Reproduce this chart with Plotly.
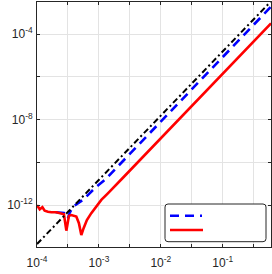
import plotly.graph_objects as go

# ---- data ----
ref_x = [1.0e-4, 0.6026]
ref_y = [1.55e-14, 3.39e-3]

blue_x = [1.995e-4, 2.239e-4, 2.723e-4, 3.162e-4, 3.365e-4, 3.811e-4, 4.581e-4,
          5.521e-4, 7.079e-4, 9.078e-4, 1.242e-3, 0.6026]
blue_y = [4.7e-13, 4.7e-13, 4.4e-13, 2.45e-13, 4.4e-13, 8.5e-13, 1.23e-12,
          1.78e-12, 3.6e-12, 7.4e-12, 1.51e-11, 1.9e-3]

red_x = [1.0e-4, 1.107e-4, 1.222e-4, 1.33e-4, 1.503e-4, 1.706e-4, 2.056e-4,
         2.477e-4, 2.723e-4, 2.979e-4, 3.281e-4, 3.589e-4, 4.315e-4, 4.753e-4,
         5.2e-4, 5.662e-4, 6.397e-4, 7.534e-4, 9.078e-4, 1.094e-3, 1.396e-3,
         1.778e-3, 2.512e-3, 0.6026]
red_y = [1.02e-12, 6.5e-13, 8.1e-13, 5.6e-13, 5.0e-13, 4.7e-13, 4.7e-13,
         4.3e-13, 3.8e-13, 6.5e-14, 3.2e-13, 3.5e-13, 3.0e-13, 1.45e-13,
         4.1e-14, 8.5e-14, 2.04e-13, 4.3e-13, 8.5e-13, 1.78e-12, 3.6e-12,
         7.4e-12, 2.1e-11, 3.2e-4]

x_tickvals = [1e-4, 1e-3, 1e-2, 1e-1]
x_ticktext = ["10<sup>-4</sup>", "10<sup>-3</sup>", "10<sup>-2</sup>", "10<sup>-1</sup>"]
x_minorvals = [10**-3.5, 10**-2.5, 10**-1.5, 10**-0.5]
y_tickvals = [1e-12, 1e-8, 1e-4]
y_ticktext = ["10<sup>-12</sup>", "10<sup>-8</sup>", "10<sup>-4</sup>"]
y_minorvals = [1e-10, 1e-6]

AX = "#262626"
GRID = "#e3e3e3"
BLUE = "#0000ff"
RED = "#ff0000"
FONT = "Liberation Sans"

fig = go.Figure()
fig.add_trace(go.Scatter(x=blue_x, y=blue_y, mode="lines",
                         line=dict(color=BLUE, width=2.6, dash="9px,6px")))
fig.add_trace(go.Scatter(x=red_x, y=red_y, mode="lines",
                         line=dict(color=RED, width=2.6)))
fig.add_trace(go.Scatter(x=ref_x, y=ref_y, mode="lines",
                         line=dict(color="#000000", width=2, dash="6px,3px,2px,3px")))

axis_common = dict(type="log", showline=True, linecolor=AX, linewidth=1,
                   mirror="ticks", ticks="inside", ticklen=3, tickcolor=AX,
                   showgrid=True, gridcolor=GRID, gridwidth=1, zeroline=False,
                   automargin=False,
                   tickfont=dict(family=FONT, size=12, color=AX))

fig.update_xaxes(range=[-4, -0.22], tickvals=x_tickvals, ticktext=x_ticktext,
                 ticklabelstandoff=5,
                 minor=dict(tickvals=x_minorvals, ticks="inside", ticklen=3,
                            tickcolor=AX, showgrid=True, gridcolor=GRID, gridwidth=1),
                 **axis_common)
fig.update_yaxes(range=[-13.95, -2.5], tickvals=y_tickvals, ticktext=y_ticktext,
                 ticklabelstandoff=1,
                 minor=dict(tickvals=y_minorvals, ticks="inside", ticklen=3,
                            tickcolor=AX, showgrid=True, gridcolor=GRID, gridwidth=1),
                 **axis_common)

# legend box (drawn as shapes in paper coordinates)
W, H = 234.0, 245.0
def px(x):
    return (x - 37.0) / W
def py(y):
    return (247.0 - y) / H

x0, x1, y0, y1 = px(165), px(266), py(241.7), py(204)
rx, ry = 3 / W, 3 / H
path = (f"M {x0+rx},{y1} L {x1-rx},{y1} Q {x1},{y1} {x1},{y1-ry} "
        f"L {x1},{y0+ry} Q {x1},{y0} {x1-rx},{y0} L {x0+rx},{y0} "
        f"Q {x0},{y0} {x0},{y0+ry} L {x0},{y1-ry} Q {x0},{y1} {x0+rx},{y1} Z")
shapes = [
    dict(type="path", xref="paper", yref="paper", path=path,
         line=dict(color=AX, width=1), fillcolor="white", layer="above"),
    dict(type="line", xref="paper", yref="paper", x0=px(170), x1=px(202),
         y0=py(215.7), y1=py(215.7), line=dict(color=BLUE, width=2.6, dash="9px,6px"),
         layer="above"),
    dict(type="line", xref="paper", yref="paper", x0=px(170), x1=px(203),
         y0=py(230), y1=py(230), line=dict(color=RED, width=2.6), layer="above"),
]

fig.update_layout(width=272, height=274, margin=dict(l=37, r=1, t=2, b=27),
                  paper_bgcolor="white", plot_bgcolor="white", showlegend=False,
                  shapes=shapes)

fig.write_html("out.html", config={"displayModeBar": False},
               post_script="document.body.style.margin='0';document.body.style.overflow='hidden';")
